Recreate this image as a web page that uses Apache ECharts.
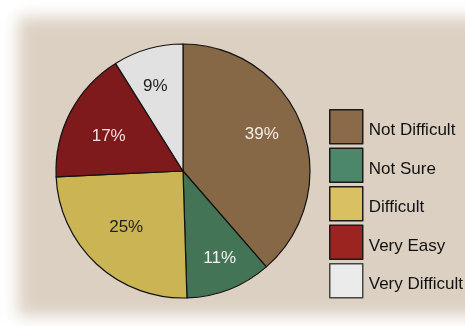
<!DOCTYPE html>
<html>
<head>
<meta charset="utf-8">
<script src="https://cdn.jsdelivr.net/npm/echarts@6/dist/echarts.min.js"></script>
<style>
  html, body { margin: 0; padding: 0; background: #ffffff; overflow: hidden; }
  #wrap { position: relative; width: 465px; height: 326px; overflow: hidden; }
  #panel { position: absolute; left: 18px; top: 17px; width: 470px; height: 299px;
           background: #dcd0c2; filter: blur(8px); }
  #chart { position: absolute; left: 0; top: 0; width: 465px; height: 326px; }
</style>
</head>
<body>
<div id="wrap">
  <div id="panel"></div>
  <div id="chart"></div>
</div>
<script>
// Survey answers, percent of respondents
const categories = ['Not Difficult', 'Not Sure', 'Difficult', 'Very Easy', 'Very Difficult'];
const values = [39, 11, 25, 17, 9];
const sliceColors = ['#866847', '#427455', '#cbb453', '#7e191c', '#e1e1e1'];
const legendColors = ['#8a6a48', '#4d8769', '#d9c062', '#9b2420', '#ebebeb'];
const labelColors = ['#f5eee6', '#f4f4f4', '#1e1e1e', '#f3dede', '#1e1e1e'];
// small nudges so each percentage sits nicely inside its slice
const labelNudges = [[-5, -5], [4, 4], [4, -9], [5, 7], [-3, 1]];

const FONT = '"Liberation Sans", Arial, Helvetica, sans-serif';

const chart = echarts.init(document.getElementById('chart'), null, { renderer: 'canvas' });

const pieData = categories.map((name, i) => ({
  name,
  value: values[i],
  itemStyle: { color: sliceColors[i] }
}));

const labelData = categories.map((name, i) => ({
  name,
  value: values[i],
  label: { color: labelColors[i], offset: labelNudges[i] }
}));

chart.setOption({
  backgroundColor: 'transparent',
  animation: false,
  legend: {
    orient: 'vertical',
    left: 324,
    top: 104,
    itemWidth: 33,
    itemHeight: 34,
    itemGap: 3,
    selectedMode: false,
    icon: 'rect',
    data: categories.map((name, i) => ({
      name,
      itemStyle: { color: legendColors[i], borderColor: i === 4 ? '#444' : '#1a1a1a', borderWidth: 1.5 }
    })),
    formatter: name => '{t|' + name + '}',
    textStyle: {
      fontFamily: FONT,
      fontSize: 17,
      color: '#111',
      rich: {
        t: {
          fontFamily: FONT,
          fontSize: 17,
          color: '#111',
          padding: [8, 0, 0, 1]
        }
      }
    }
  },
  series: [
    {
      type: 'pie',
      center: [183, 171],
      radius: 127,
      startAngle: 90,
      clockwise: true,
      silent: true,
      label: { show: false },
      labelLine: { show: false },
      itemStyle: { borderColor: '#111', borderWidth: 1.2 },
      data: pieData
    },
    {
      // transparent ring used only to place the percentage labels further out
      type: 'pie',
      center: [183, 171],
      radius: [46, 127],
      startAngle: 90,
      clockwise: true,
      silent: true,
      legendHoverLink: false,
      itemStyle: { color: 'rgba(0,0,0,0)', borderWidth: 0 },
      label: {
        show: true,
        position: 'inside',
        formatter: p => p.value + '%',
        fontFamily: FONT,
        fontSize: 17
      },
      labelLine: { show: false },
      data: labelData
    }
  ]
});
</script>
</body>
</html>
